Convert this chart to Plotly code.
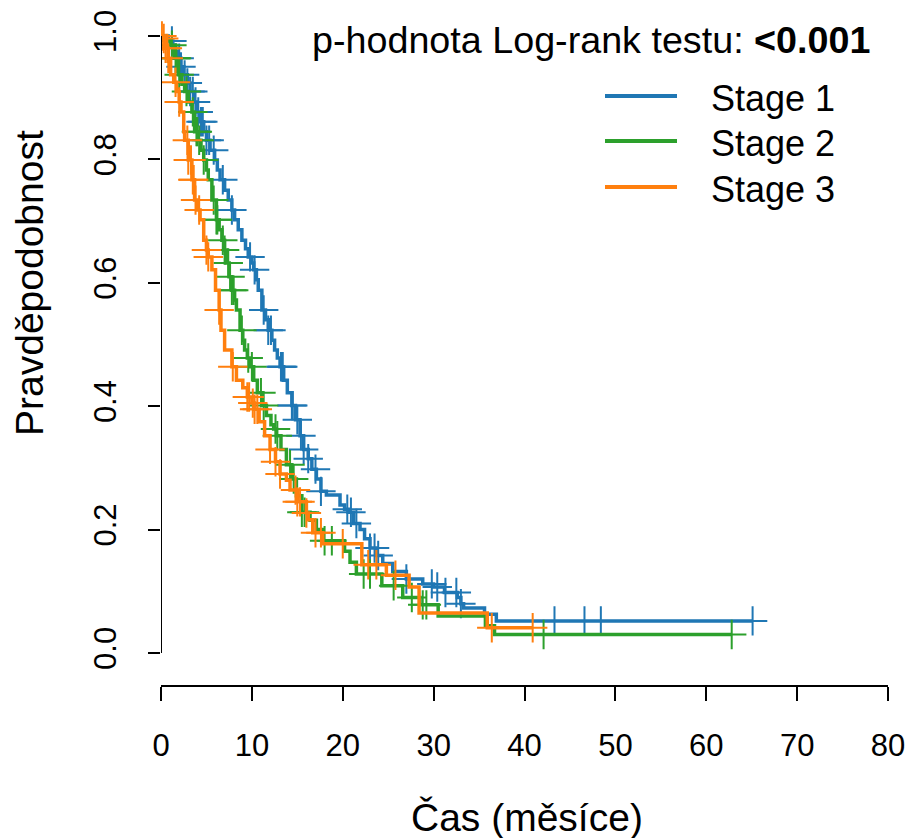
import plotly.graph_objects as go

# ---------------- data ----------------
stage_names = ["Stage 1", "Stage 2", "Stage 3"]
stage_colors = ["#1f77b4", "#2ca02c", "#ff7f0e"]

stage1_times = [0, 0.8, 1.3, 1.6, 1.9, 2.2, 2.5, 2.9, 3.2, 3.6, 3.9, 4.3, 4.7, 5.0, 5.4, 5.9, 6.2, 6.5, 7.0, 7.4,
                7.8, 8.1, 8.5, 8.9, 9.3, 9.6, 10.0, 10.2, 10.5, 10.7, 11.1, 11.5, 11.8, 12.2, 12.5, 12.8, 13.1, 13.5,
                13.9, 14.4, 14.8, 15.3, 15.7, 16.2, 16.6, 17.1, 17.6, 18.2, 19.7, 20.2, 20.6, 21.2, 21.9, 22.4, 23.0,
                23.7, 24.4, 25.5, 27.0, 28.8, 30.0, 31.2, 32.6, 33.0, 33.3, 35.6, 36.9, 65.1]
stage1_surv = [1.0, 0.992, 0.985, 0.975, 0.964, 0.95, 0.937, 0.924, 0.91, 0.893, 0.877, 0.861, 0.845, 0.831, 0.815,
               0.799, 0.783, 0.767, 0.75, 0.734, 0.718, 0.702, 0.686, 0.669, 0.655, 0.642, 0.632, 0.621, 0.605, 0.588,
               0.556, 0.54, 0.523, 0.507, 0.491, 0.478, 0.464, 0.442, 0.422, 0.401, 0.378, 0.352, 0.33, 0.315, 0.298,
               0.282, 0.262, 0.256, 0.24, 0.233, 0.228, 0.21, 0.2, 0.185, 0.17, 0.158, 0.145, 0.132, 0.12, 0.112,
               0.107, 0.098, 0.09, 0.08, 0.073, 0.063, 0.052, 0.052]
stage1_censor = [1.2, 2.0, 2.2, 2.6, 2.9, 3.2, 3.5, 3.8, 4.1, 4.4, 4.6, 5.0, 5.3, 5.8, 6.8, 7.8, 9.8, 10.3, 11.3,
                 11.8, 12.1, 13.2, 13.3, 13.4, 14.4, 14.5, 15.0, 15.4, 15.7, 16.2, 17.0, 17.6, 20.5, 20.9, 21.5,
                 23.0, 23.5, 23.9, 27.0, 29.8, 30.4, 31.3, 32.5, 33.0, 43.3, 46.6, 48.4, 65.1]

stage2_times = [0, 0.6, 1.0, 1.5, 1.9, 2.3, 2.6, 3.0, 3.4, 3.7, 4.1, 4.4, 4.7, 5.0, 5.2, 5.6, 6.1, 6.4, 6.7, 7.0,
                7.2, 7.5, 7.8, 8.1, 8.3, 8.7, 9.0, 9.2, 9.5, 9.8, 10.2, 10.6, 11.1, 11.6, 12.1, 12.4, 12.7, 13.2,
                13.8, 14.4, 14.9, 15.5, 16.4, 17.1, 17.8, 20.2, 20.8, 21.5, 24.3, 26.6, 28.5, 30.5, 35.7, 36.7, 62.8]
stage2_surv = [1.0, 0.993, 0.985, 0.964, 0.937, 0.922, 0.91, 0.893, 0.877, 0.845, 0.831, 0.815, 0.799, 0.783,
               0.767, 0.734, 0.702, 0.686, 0.669, 0.653, 0.632, 0.61, 0.588, 0.572, 0.556, 0.523, 0.507, 0.491,
               0.478, 0.464, 0.442, 0.422, 0.401, 0.385, 0.37, 0.363, 0.352, 0.33, 0.305, 0.282, 0.255, 0.228,
               0.215, 0.2, 0.182, 0.165, 0.147, 0.128, 0.109, 0.09, 0.078, 0.06, 0.044, 0.03, 0.03]
stage2_censor = [1.2, 1.6, 1.7, 2.0, 2.8, 3.5, 3.9, 4.0, 4.2, 4.7, 5.8, 6.1, 6.2, 6.8, 7.0, 7.4, 7.6, 7.8, 8.0,
                 8.9, 9.6, 10.0, 11.0, 11.3, 12.6, 12.8, 14.2, 14.6, 15.5, 15.8, 18.0, 18.8, 22.3, 23.0, 25.6,
                 27.6, 28.8, 29.2, 42.1, 62.8]

stage3_times = [0, 0.2, 0.5, 0.8, 1.06, 1.4, 1.7, 2.0, 2.2, 2.5, 2.6, 3.0, 3.4, 3.7, 4.0, 4.3, 4.7, 5.0, 5.2, 5.6,
                6.0, 6.4, 6.6, 7.0, 7.8, 8.3, 9.0, 9.5, 10.0, 10.3, 10.8, 11.4, 12.0, 12.6, 13.1, 13.8, 14.2, 15.0,
                16.0, 16.2, 16.7, 17.8, 22.1, 24.8, 27.3, 28.4, 35.9, 40.9]
stage3_surv = [1.0, 0.996, 0.98, 0.964, 0.937, 0.925, 0.91, 0.893, 0.877, 0.845, 0.831, 0.799, 0.767, 0.734,
               0.718, 0.702, 0.669, 0.653, 0.642, 0.621, 0.588, 0.556, 0.523, 0.491, 0.464, 0.442, 0.43, 0.415,
               0.405, 0.395, 0.375, 0.352, 0.33, 0.31, 0.29, 0.28, 0.264, 0.245, 0.227, 0.216, 0.195, 0.177,
               0.143, 0.126, 0.107, 0.065, 0.041, 0.041]
stage3_censor = [0.1, 0.3, 0.5, 0.7, 0.8, 1.6, 2.0, 2.9, 3.0, 3.3, 3.5, 3.6, 3.8, 4.2, 5.0, 5.2, 6.4, 7.9, 9.5,
                 9.7, 10.1, 10.3, 10.6, 12.0, 12.6, 13.1, 14.8, 15.0, 15.3, 16.0, 17.0, 17.6, 20.0, 22.8, 23.7,
                 25.8, 36.4, 40.9]

x_ticks = [0, 10, 20, 30, 40, 50, 60, 70, 80]
y_ticks = [0.0, 0.2, 0.4, 0.6, 0.8, 1.0]
y_ticktext = ["0.0", "0.2", "0.4", "0.6", "0.8", "1.0"]
x_title = "Čas (měsíce)"
y_title = "Pravděpodobnost"
p_label = "p-hodnota Log-rank testu:"
p_value = "<0.001"

# ---------------- figure ----------------
W, H = 908, 838
L, R, T, B = 161, 20, 12, 153
PLOT_W = W - L - R
PLOT_H = H - T - B
Y0_PX, Y1_PX = 653, 36  # pixel rows of y=0 and y=1
per_unit = Y0_PX - Y1_PX
y_min = -((H - B) - Y0_PX) / per_unit
y_max = 1 + (Y1_PX - T) / per_unit

FONT = "Liberation Sans, Arial, Helvetica, sans-serif"


def px_x(px):
    return (px - L) / PLOT_W


def px_y(py):
    return ((H - B) - py) / PLOT_H


def km_value(times, surv, t):
    v = surv[0]
    for ti, si in zip(times, surv):
        if ti <= t + 1e-9:
            v = si
        else:
            break
    return v


series = [
    (stage1_times, stage1_surv, stage1_censor),
    (stage2_times, stage2_surv, stage2_censor),
    (stage3_times, stage3_surv, stage3_censor),
]

fig = go.Figure()
for (times, surv, cens), name, col in zip(series, stage_names, stage_colors):
    fig.add_trace(go.Scatter(x=times, y=surv, mode="lines", line=dict(color=col, width=3.5, shape="hv"),
                             name=name, showlegend=False, hoverinfo="skip"))
    fig.add_trace(go.Scatter(x=cens, y=[km_value(times, surv, c) for c in cens], mode="markers",
                             marker=dict(symbol="cross-thin", size=21, color=col, line=dict(color=col, width=2)),
                             name=name + " censored", showlegend=False, hoverinfo="skip"))

fig.update_layout(
    width=W, height=H,
    margin=dict(l=L, r=R, t=T, b=B, pad=0, autoexpand=False),
    paper_bgcolor="white", plot_bgcolor="white",
    font=dict(family=FONT, color="black"),
    showlegend=False,
    xaxis=dict(range=[0, 80], tickvals=x_ticks, ticks="outside", ticklen=14, tickwidth=2, tickcolor="black",
               showline=True, linewidth=2, linecolor="black", showgrid=False, zeroline=False, automargin=False,
               tickfont=dict(size=31, family=FONT, color="black"), ticklabelstandoff=18),
    yaxis=dict(range=[y_min, y_max], tickvals=y_ticks, ticktext=y_ticktext, tickangle=-90,
               ticks="outside", ticklen=12, tickwidth=2, tickcolor="black", automargin=False,
               showline=False, showgrid=False, zeroline=False,
               tickfont=dict(size=31, family=FONT, color="black"), ticklabelstandoff=20),
)

# y axis line spanning only 0..1 (base R style)
fig.add_shape(type="line", xref="x", yref="y", x0=0, x1=0, y0=0, y1=1, line=dict(color="black", width=2))

# axis titles
fig.add_annotation(text=x_title, xref="paper", yref="paper", x=px_x(527), y=px_y(817), showarrow=False,
                   xanchor="center", yanchor="middle", font=dict(size=39, family=FONT, color="black"))
fig.add_annotation(text=y_title, xref="paper", yref="paper", x=px_x(29), y=px_y(283), showarrow=False,
                   textangle=-90, xanchor="center", yanchor="middle", font=dict(size=39, family=FONT, color="black"))

# p-value text
fig.add_annotation(text=p_label + " <b>" + p_value.replace("<", "&lt;") + "</b>", xref="paper", yref="paper",
                   x=px_x(310), y=px_y(40), showarrow=False, xanchor="left", yanchor="middle",
                   font=dict(size=37.7, family=FONT, color="black"))

# legend (drawn manually in base-R style)
legend_rows_px = [96, 141, 187]
for name, col, ypx in zip(stage_names, stage_colors, legend_rows_px):
    fig.add_shape(type="line", xref="paper", yref="paper", x0=px_x(605), x1=px_x(677), y0=px_y(ypx), y1=px_y(ypx),
                  line=dict(color=col, width=4))
    fig.add_annotation(text=name, xref="paper", yref="paper", x=px_x(709), y=px_y(ypx + 3), showarrow=False,
                       xanchor="left", yanchor="middle", font=dict(size=36, family=FONT, color="black"))

fig.write_html("out.html", config={"displayModeBar": False},
               post_script="document.body.style.margin='0';document.body.style.overflow='hidden';")
